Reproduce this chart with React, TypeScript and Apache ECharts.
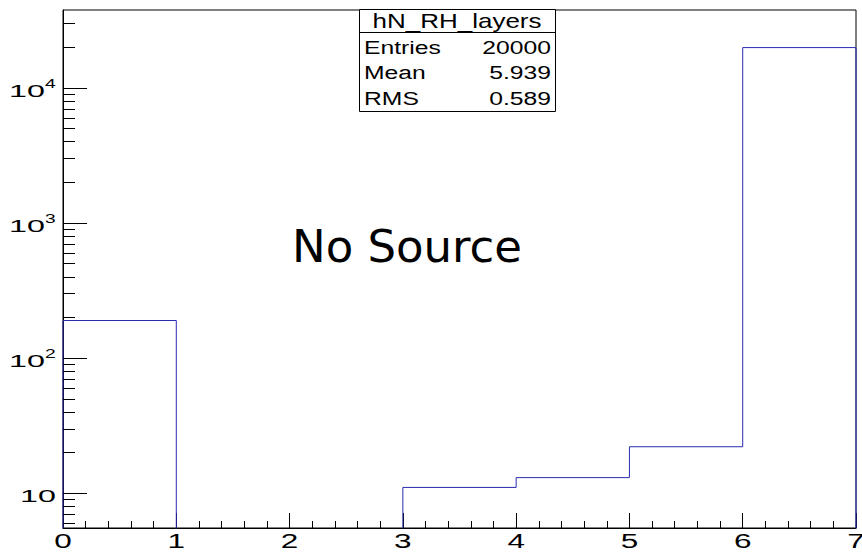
import React, { useEffect, useRef } from "react";
import * as echarts from "echarts";

const binEdges = [0, 1, 2, 3, 4, 5, 6, 7];
const binValues = [189, 0, 0, 11, 13, 22, 19765];
const xTickValues = [0, 1, 2, 3, 4, 5, 6, 7];
const xTickLabels = ["0", "1", "2", "3", "4", "5", "6", "7"];
const yMajorTicks = [10, 100, 1000, 10000];
const yMajorExponents = ["", "2", "3", "4"];
const yMinorTicks = [6, 7, 8, 9, 20, 30, 40, 50, 60, 70, 80, 90, 200, 300, 400, 500, 600, 700, 800, 900, 2000, 3000, 4000, 5000, 6000, 7000, 8000, 9000, 20000, 30000];
const statsTitle = "hN_RH_layers";
const statsNames = ["Entries", "Mean", "RMS"];
const statsValues = ["20000", "5.939", "0.589"];
const overlayText = "No Source";

const Y_MIN = 5.51;
const Y_MAX = 37500;
const FLOOR = 1;
const FONT = "'Liberation Sans', Arial, Helvetica, sans-serif";

export default function App() {
  const ref = useRef<HTMLDivElement>(null);
  useEffect(() => {
    if (!ref.current) return;
    const chart = echarts.init(ref.current, null, { renderer: "svg" });

    const stepData: number[][] = [[binEdges[0], FLOOR]];
    binValues.forEach((v, i) => stepData.push([binEdges[i], v > 0 ? v : FLOOR]));
    const last = binValues[binValues.length - 1];
    stepData.push([binEdges[binEdges.length - 1], last > 0 ? last : FLOOR]);
    stepData.push([binEdges[binEdges.length - 1], FLOOR]);

    const tickData = [
      ...yMajorTicks.map((v) => [0, v, 24]),
      ...yMinorTicks.map((v) => [0, v, 12]),
    ];
    const xLabelData = xTickValues.map((v, i) => [v, Y_MIN, i]);
    const yLabelData = yMajorTicks.map((v, i) => [0, v, i]);

    const rowY = [48, 73, 99];
    const SX = 1.3;
    const graphic: any[] = [
      {
        type: "rect",
        z: 100,
        shape: { x: 359.5, y: 9.5, width: 196, height: 102 },
        style: { fill: "#fff", stroke: "#000", lineWidth: 1 },
      },
      {
        type: "line",
        z: 101,
        shape: { x1: 359.5, y1: 32.5, x2: 555.5, y2: 32.5 },
        style: { stroke: "#000", lineWidth: 1 },
      },
      {
        type: "text",
        z: 101,
        x: 457,
        y: 21,
        scaleX: SX,
        style: { text: statsTitle, fontSize: 20, fontFamily: FONT, fill: "#000", align: "center", verticalAlign: "middle" },
      },
      ...statsNames.map((n, i) => ({
        type: "text",
        z: 101,
        x: 364,
        y: rowY[i],
        scaleX: SX,
        style: { text: n, fontSize: 19, fontFamily: FONT, fill: "#000", align: "left", verticalAlign: "middle" },
      })),
      ...statsValues.map((n, i) => ({
        type: "text",
        z: 101,
        x: 551,
        y: rowY[i],
        scaleX: SX,
        style: { text: n, fontSize: 19, fontFamily: FONT, fill: "#000", align: "right", verticalAlign: "middle" },
      })),
      {
        type: "text",
        z: 101,
        x: 407,
        y: 246,
        style: {
          text: overlayText,
          fontSize: 45,
          fontFamily: "'Comic Sans MS', 'DejaVu Sans', sans-serif",
          fill: "#000",
          align: "center",
          verticalAlign: "middle",
        },
      },
    ];

    chart.setOption({
      animation: false,
      backgroundColor: "#fff",
      grid: {
        left: 63,
        right: 6,
        top: 10,
        bottom: 26,
        show: true,
        borderColor: "#000",
        borderWidth: 1,
        backgroundColor: "transparent",
        containLabel: false,
      },
      xAxis: {
        type: "value",
        min: 0,
        max: 7,
        interval: 1,
        axisLine: { show: true, lineStyle: { color: "#000", width: 1 } },
        axisTick: { show: true, inside: true, length: 15, lineStyle: { color: "#000" } },
        minorTick: { show: true, splitNumber: 5, length: 7, lineStyle: { color: "#000" } },
        splitLine: { show: false },
        minorSplitLine: { show: false },
        axisLabel: { show: false },
      },
      yAxis: {
        type: "log",
        logBase: 10,
        min: Y_MIN,
        max: Y_MAX,
        axisLine: { show: true, lineStyle: { color: "#000", width: 1 } },
        axisTick: { show: false },
        splitLine: { show: false },
        axisLabel: { show: false },
      },
      series: [
        {
          type: "line",
          step: "end",
          data: stepData,
          showSymbol: false,
          symbol: "none",
          clip: true,
          lineStyle: { color: "#2a2ab0", width: 1 },
          z: 3,
        },
        {
          type: "custom",
          data: tickData,
          clip: false,
          silent: true,
          z: 4,
          renderItem: (params: any, api: any) => {
            const p = api.coord([api.value(0), api.value(1)]);
            const len = api.value(2);
            const y = Math.round(p[1]) + 0.5;
            return {
              type: "line",
              shape: { x1: p[0], y1: y, x2: p[0] + len, y2: y },
              style: { stroke: "#000", lineWidth: 1 },
            };
          },
        },
        {
          type: "custom",
          data: xLabelData,
          clip: false,
          silent: true,
          z: 4,
          renderItem: (params: any, api: any) => {
            const p = api.coord([api.value(0), api.value(1)]);
            const idx = api.value(2);
            return {
              type: "text",
              x: p[0],
              y: p[1] + 13,
              scaleX: 1.5,
              style: {
                text: xTickLabels[idx],
                fontSize: 21,
                fontFamily: FONT,
                fill: "#000",
                align: "center",
                verticalAlign: "middle",
              },
            };
          },
        },
        {
          type: "custom",
          data: yLabelData,
          clip: false,
          silent: true,
          z: 4,
          renderItem: (params: any, api: any) => {
            const p = api.coord([api.value(0), api.value(1)]);
            const idx = api.value(2);
            const exp = yMajorExponents[idx];
            const baseRight = exp ? p[0] - 18 : p[0] - 7;
            const children: any[] = [
              {
                type: "text",
                x: baseRight,
                y: p[1] + 3.5,
                scaleX: 1.9,
                style: {
                  text: "10",
                  fontSize: 17,
                  fontFamily: FONT,
                  fill: "#000",
                  align: "right",
                  verticalAlign: "middle",
                },
              },
            ];
            if (exp) {
              children.push({
                type: "text",
                x: baseRight,
                y: p[1] - 3.5,
                scaleX: 1.6,
                style: {
                  text: exp,
                  fontSize: 12,
                  fontFamily: FONT,
                  fill: "#000",
                  align: "left",
                  verticalAlign: "middle",
                },
              });
            }
            return { type: "group", children };
          },
        },
      ],
      graphic,
    });

    return () => chart.dispose();
  }, []);

  return <div ref={ref} style={{ width: 862, height: 554, position: "absolute", left: 0, top: 0 }} />;
}
